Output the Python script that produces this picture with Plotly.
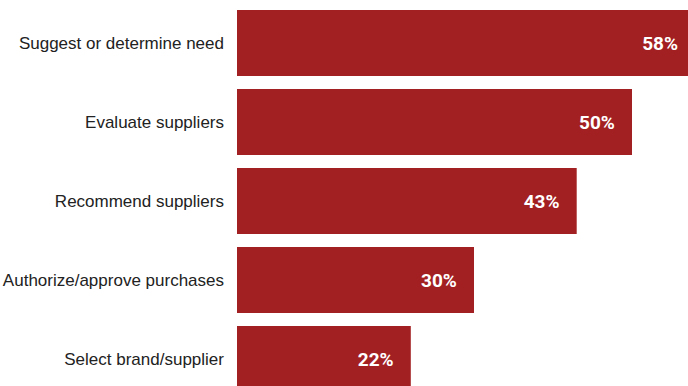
import plotly.graph_objects as go

categories = ["Suggest or determine need", "Evaluate suppliers", "Recommend suppliers",
              "Authorize/approve purchases", "Select brand/supplier"]
values = [58, 50, 43, 30, 22]
labels = ["58%", "50%", "43%", "30%", "22%"]

color = "#A32022"
pad = "\u00a0" * 3  # right padding inside the bar end

fig = go.Figure(go.Bar(
    x=values, y=categories, orientation="h",
    marker=dict(color=color, line=dict(width=0)),
    width=66/79,
    text=[t + pad for t in labels], texttemplate="%{text}",
    textposition="inside", insidetextanchor="end", constraintext="none",
    textfont=dict(family="Roboto", size=19, color="white", weight="bold"),
    hoverinfo="skip",
))

fig.update_layout(
    width=688, height=386,
    margin=dict(l=237, r=0, t=0, b=0),
    paper_bgcolor="white", plot_bgcolor="white",
    showlegend=False,
    xaxis=dict(range=[0, 451/7.9], visible=False, fixedrange=True),
    yaxis=dict(categoryorder="array", categoryarray=categories, automargin=False,
               range=[(386-43)/79, -43/79], showgrid=False, zeroline=False,
               showline=False, ticks="", ticklabelstandoff=12,
               tickfont=dict(family="Liberation Sans", size=17, color="#222222")),
)

fig.write_html("out.html")
